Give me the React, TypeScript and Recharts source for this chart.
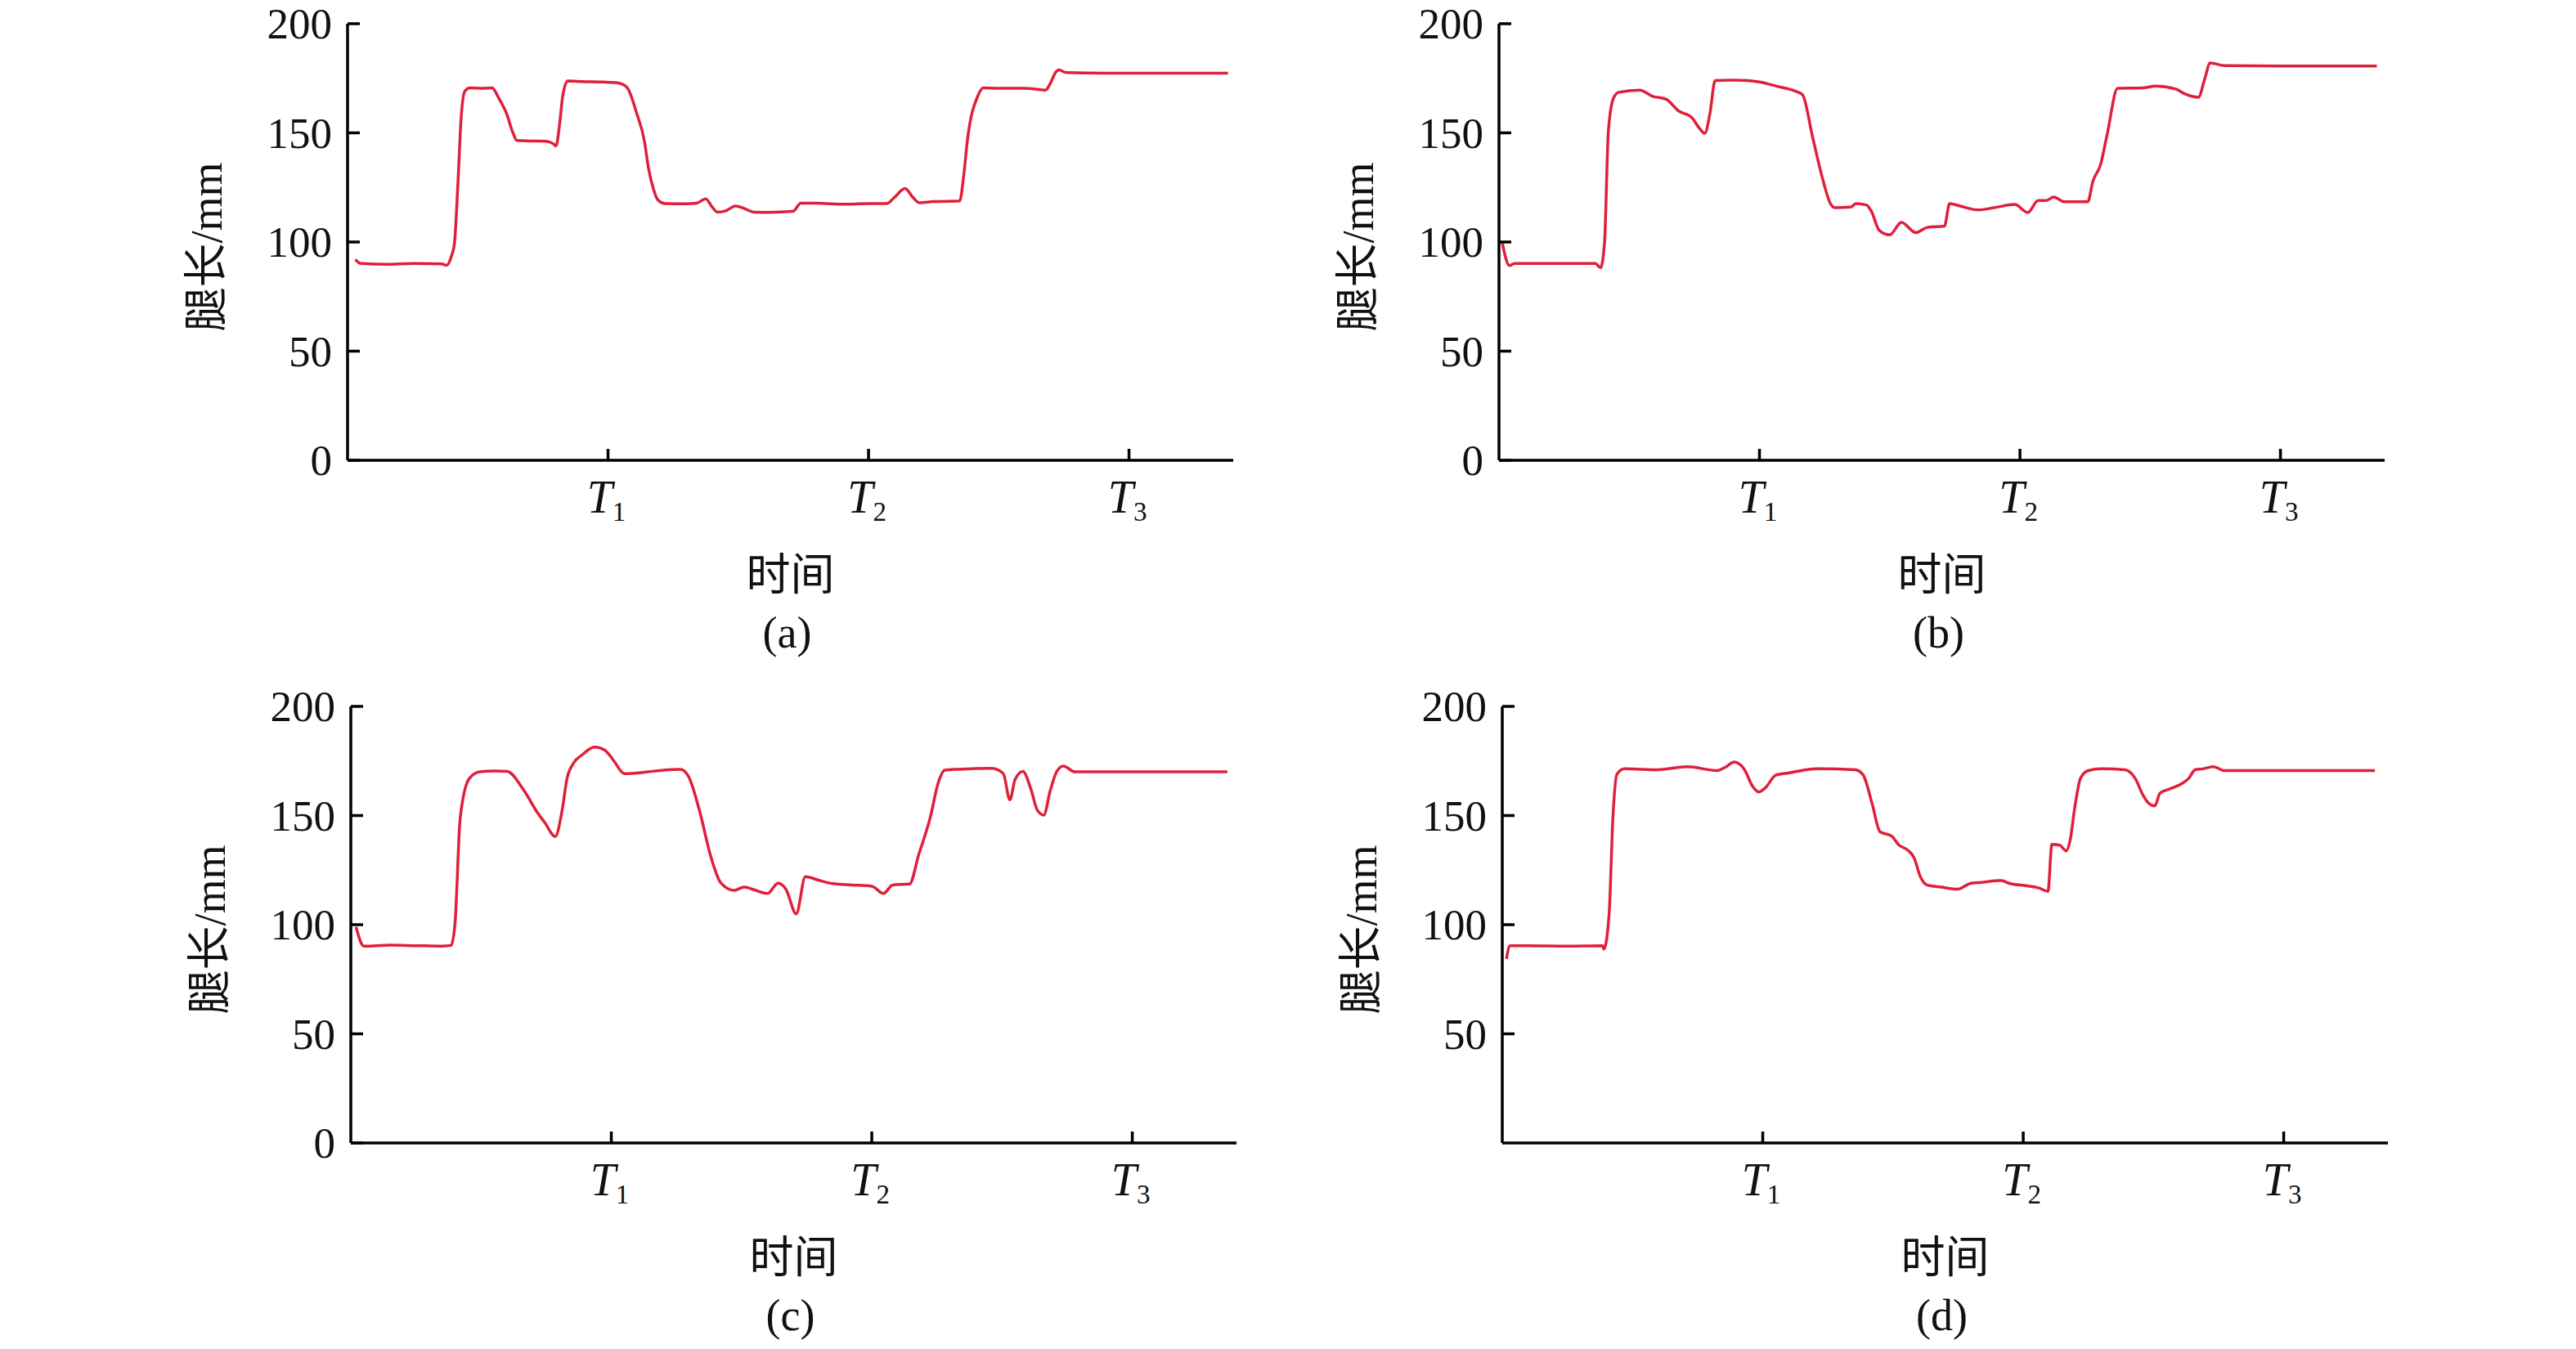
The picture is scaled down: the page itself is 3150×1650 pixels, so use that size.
import { LineChart, Line, XAxis, YAxis, Label } from "recharts";

const FONT = '"Liberation Serif", "Times New Roman", "Noto Sans CJK SC", serif';
const RED = "#e01f3a";

// panel (a)
const timeA = [0.03, 0.05, 0.15, 0.25, 0.36, 0.38, 0.4, 0.41, 0.425, 0.435, 0.45, 0.47, 0.52, 0.555, 0.58, 0.61, 0.635, 0.65, 0.7, 0.76, 0.79, 0.8, 0.815, 0.825, 0.845, 0.9, 0.98, 1.03, 1.06, 1.075, 1.11, 1.14, 1.155, 1.175, 1.19, 1.22, 1.3, 1.34, 1.375, 1.4, 1.42, 1.45, 1.49, 1.52, 1.56, 1.62, 1.71, 1.74, 1.8, 1.9, 2.0, 2.07, 2.1, 2.14, 2.17, 2.195, 2.25, 2.35, 2.365, 2.38, 2.42, 2.44, 2.5, 2.6, 2.68, 2.695, 2.72, 2.73, 2.76, 2.9, 3.1, 3.38];
const legA = [92, 90.2, 89.8, 90.2, 90, 89.3, 94, 99, 130, 155, 169, 170.6, 170.4, 170.6, 166, 159, 150, 146.5, 146.3, 146.2, 145, 144, 155, 166, 173.8, 173.5, 173.3, 173, 172, 170.5, 159, 146, 134, 124, 119.5, 117.6, 117.5, 117.8, 119.8, 116, 113.7, 114.2, 116.5, 115.5, 113.7, 113.6, 114, 117.8, 117.8, 117.3, 117.6, 117.6, 120.5, 124.5, 120.5, 118, 118.5, 118.8, 130, 147, 167, 170.6, 170.4, 170.4, 169.6, 172, 178, 178.8, 177.6, 177.3, 177.3, 177.3];

// panel (b)
const timeB = [0.013, 0.04, 0.06, 0.2, 0.37, 0.39, 0.405, 0.42, 0.44, 0.46, 0.54, 0.59, 0.64, 0.69, 0.74, 0.77, 0.79, 0.81, 0.83, 0.9, 0.955, 1.0, 1.065, 1.14, 1.165, 1.205, 1.24, 1.275, 1.29, 1.35, 1.37, 1.41, 1.43, 1.46, 1.5, 1.545, 1.6, 1.645, 1.71, 1.73, 1.77, 1.84, 1.9, 1.98, 2.03, 2.07, 2.1, 2.13, 2.17, 2.26, 2.28, 2.31, 2.335, 2.375, 2.47, 2.52, 2.6, 2.63, 2.685, 2.71, 2.73, 2.785, 3.0, 3.37];
const legB = [99.4, 89.2, 90.2, 90.2, 90.2, 88.2, 99.4, 151, 166, 168.6, 169.6, 166.7, 165.5, 160, 157, 152, 149.8, 159, 174, 174.2, 174, 173.3, 171.4, 169, 167.5, 147.5, 130, 117, 115.7, 116, 117.6, 117, 114, 105.3, 103.3, 109, 104.3, 106.7, 107.3, 117.6, 116.5, 114.7, 115.7, 117.2, 113.5, 119, 119, 120.6, 118.4, 118.4, 127.8, 135.7, 149.4, 170.4, 170.6, 171.4, 170, 168, 166.3, 175, 182, 180.8, 180.6, 180.6];

// panel (c)
const timeC = [0.02, 0.05, 0.15, 0.25, 0.35, 0.385, 0.4, 0.42, 0.455, 0.495, 0.55, 0.6, 0.665, 0.715, 0.745, 0.785, 0.81, 0.83, 0.855, 0.89, 0.935, 0.975, 1.01, 1.05, 1.14, 1.2, 1.265, 1.295, 1.34, 1.38, 1.42, 1.47, 1.51, 1.55, 1.6, 1.64, 1.67, 1.71, 1.745, 1.8, 1.85, 1.925, 2.0, 2.045, 2.08, 2.145, 2.18, 2.225, 2.255, 2.28, 2.335, 2.46, 2.505, 2.53, 2.55, 2.58, 2.61, 2.635, 2.66, 2.685, 2.71, 2.735, 2.78, 3.0, 3.365];
const legC = [99, 90.2, 90.6, 90.4, 90.2, 90.5, 100.6, 149, 167, 170, 170.4, 170.2, 161.4, 151.6, 146.7, 140.4, 151.6, 167, 174, 178, 181.4, 180, 175, 169.2, 170, 170.8, 171.2, 168.2, 151.6, 132, 119.2, 115.7, 117.2, 115.9, 114.3, 119, 116.3, 105, 122, 120.2, 118.8, 118.2, 117.6, 114.3, 118.2, 118.6, 132, 149.4, 165, 170.8, 171.2, 171.6, 169.2, 157.2, 166.5, 170.2, 162.4, 152.6, 150.2, 161.4, 170.2, 172.7, 170, 170, 170];

// panel (d)
const timeD = [0.016, 0.03, 0.1, 0.25, 0.385, 0.39, 0.41, 0.425, 0.44, 0.47, 0.6, 0.71, 0.825, 0.86, 0.89, 0.93, 0.96, 0.985, 1.01, 1.05, 1.1, 1.21, 1.355, 1.385, 1.42, 1.45, 1.495, 1.52, 1.56, 1.58, 1.605, 1.63, 1.685, 1.75, 1.795, 1.84, 1.915, 1.95, 2.015, 2.06, 2.095, 2.11, 2.14, 2.165, 2.18, 2.2, 2.22, 2.25, 2.3, 2.39, 2.43, 2.46, 2.48, 2.505, 2.525, 2.565, 2.61, 2.635, 2.66, 2.69, 2.73, 2.77, 3.0, 3.35];
const legD = [84.3, 90.4, 90.4, 90.2, 90.4, 88.8, 104.5, 149.5, 168.9, 171.4, 171, 172.4, 170.6, 172.4, 174.5, 171, 163.6, 160.8, 162.7, 168.5, 169.5, 171.4, 171, 168.7, 155.4, 142.6, 140.6, 136.8, 133.8, 130.9, 122, 118.2, 117.2, 116.3, 118.8, 119.4, 120.2, 118.8, 117.8, 116.8, 115.3, 136.8, 136.4, 133.8, 138.7, 155.4, 167.1, 170.6, 171.4, 171, 167, 159.3, 155.8, 154.4, 160.2, 162.3, 164.7, 167, 171, 171.4, 172.4, 170.6, 170.6, 170.6];

const yTicksFull = [0, 50, 100, 150, 200];
const yTicksNoZero = [50, 100, 150, 200];
const xTicks = [1, 2, 3];
const xTickSubs = ["1", "2", "3"];
const xTitle = "时间";
const yTitle = "腿长/mm";

const toRows = (t: number[], v: number[]) => t.map((x, i) => ({ t: x, v: v[i] }));

const Y_AXIS_W = 220;
const PLOT_W = 1083;
const PLOT_H = 534;
const TOP = 29;
const X_AXIS_H = 250;

function YTick(props: any) {
  const { x, y, payload } = props;
  return (
    <g>
      <line x1={x} x2={x + 15} y1={y} y2={y} stroke="#000" strokeWidth={3.5} />
      <text x={x - 19} y={y} dy="0.34em" textAnchor="end" fontFamily={FONT} fontSize={53} fill="#111">
        {payload.value}
      </text>
    </g>
  );
}

function XTick(props: any) {
  const { x, y, payload, index } = props;
  return (
    <g>
      <line x1={x} x2={x} y1={y} y2={y - 14} stroke="#000" strokeWidth={3.5} />
      <text x={x - 2} y={y + 64} textAnchor="middle" fontFamily={FONT} fontSize={56} fill="#111">
        <tspan fontStyle="italic">T</tspan>
        <tspan fontSize={33} dy={10}>{xTickSubs[index] ?? payload.value}</tspan>
      </text>
    </g>
  );
}

interface PanelProps {
  rows: { t: number; v: number }[];
  yTicks: number[];
  caption: string;
  left: number;
  top: number;
}

function Panel({ rows, yTicks, caption, left, top }: PanelProps) {
  return (
    <div style={{ position: "absolute", left, top }}>
      <LineChart
        width={Y_AXIS_W + PLOT_W + 40}
        height={TOP + PLOT_H + X_AXIS_H}
        data={rows}
        margin={{ top: TOP, right: 40, bottom: 0, left: 0 }}
      >
        <XAxis
          dataKey="t"
          type="number"
          domain={[0, 3.4]}
          ticks={xTicks}
          interval={0}
          allowDataOverflow
          height={X_AXIS_H}
          tickSize={0}
          tickMargin={0}
          tickLine={false}
          axisLine={{ stroke: "#000", strokeWidth: 3.5 }}
          tick={<XTick />}
        >
          <Label
            content={(p: any) => {
              const vb = p.viewBox || {};
              const cx = vb.x + vb.width / 2;
              return (
                <g>
                  <text x={cx} y={vb.y + 141} dominantBaseline="central" textAnchor="middle" fontFamily={FONT} fontSize={54} fill="#111">
                    {xTitle}
                  </text>
                  <text x={cx - 4} y={vb.y + 211} dominantBaseline="central" textAnchor="middle" fontFamily={FONT} fontSize={54} fill="#111">
                    {caption}
                  </text>
                </g>
              );
            }}
          />
        </XAxis>
        <YAxis
          type="number"
          domain={[0, 200]}
          ticks={yTicks}
          interval={0}
          width={Y_AXIS_W}
          tickSize={0}
          tickMargin={0}
          tickLine={false}
          axisLine={{ stroke: "#000", strokeWidth: 3.5 }}
          tick={<YTick />}
        >
          <Label
            content={(p: any) => {
              const vb = p.viewBox || {};
              const cx = vb.x + vb.width - 172;
              const cy = vb.y + vb.height / 2 + 6;
              return (
                <text
                  x={cx}
                  y={cy}
                  transform={`rotate(-90 ${cx} ${cy})`}
                  dominantBaseline="central"
                  textAnchor="middle"
                  fontFamily={FONT}
                  fontSize={54}
                  fill="#111"
                >
                  {yTitle}
                </text>
              );
            }}
          />
        </YAxis>
        <Line
          type="monotone"
          dataKey="v"
          stroke={RED}
          strokeWidth={3.5}
          dot={false}
          isAnimationActive={false}
        />
      </LineChart>
    </div>
  );
}

export default function App() {
  return (
    <div
      style={{
        position: "absolute",
        left: 0,
        top: 0,
        width: 3150,
        height: 1650,
        background: "#fff",
        overflow: "hidden",
      }}
    >
      <Panel rows={toRows(timeA, legA)} yTicks={yTicksFull} caption="(a)" left={425 - Y_AXIS_W} top={0} />
      <Panel rows={toRows(timeB, legB)} yTicks={yTicksFull} caption="(b)" left={1833 - Y_AXIS_W} top={0} />
      <Panel rows={toRows(timeC, legC)} yTicks={yTicksFull} caption="(c)" left={429 - Y_AXIS_W} top={835} />
      <Panel rows={toRows(timeD, legD)} yTicks={yTicksNoZero} caption="(d)" left={1837 - Y_AXIS_W} top={835} />
    </div>
  );
}
